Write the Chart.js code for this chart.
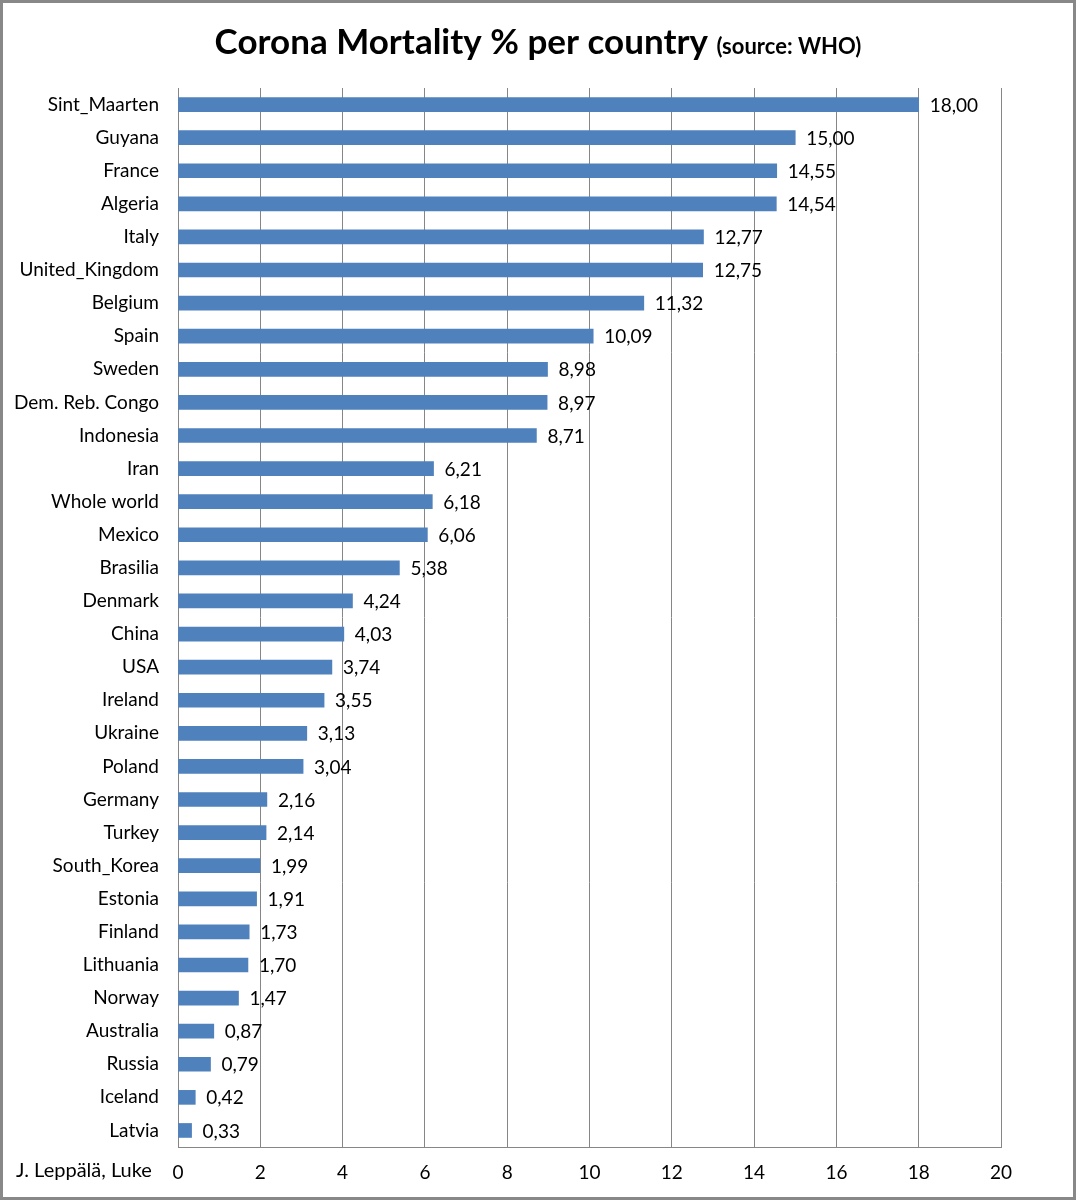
<!DOCTYPE html>
<html>
<head>
<meta charset="utf-8">
<title>Corona Mortality % per country</title>
<script src="https://cdn.jsdelivr.net/npm/chart.js@4.4.1/dist/chart.umd.min.js"></script>
<style>
  html, body { margin: 0; padding: 0; background: #fff; }
  canvas { display: block; }
</style>
</head>
<body>
<canvas id="myChart" width="1076" height="1200"></canvas>
<script>
const countries = ['Sint_Maarten', 'Guyana', 'France', 'Algeria', 'Italy', 'United_Kingdom', 'Belgium', 'Spain',
  'Sweden', 'Dem. Reb. Congo', 'Indonesia', 'Iran', 'Whole world', 'Mexico', 'Brasilia', 'Denmark', 'China',
  'USA', 'Ireland', 'Ukraine', 'Poland', 'Germany', 'Turkey', 'South_Korea', 'Estonia', 'Finland', 'Lithuania',
  'Norway', 'Australia', 'Russia', 'Iceland', 'Latvia'];
const mortality = [18.00, 15.00, 14.55, 14.54, 12.77, 12.75, 11.32, 10.09, 8.98, 8.97, 8.71, 6.21, 6.18, 6.06,
  5.38, 4.24, 4.03, 3.74, 3.55, 3.13, 3.04, 2.16, 2.14, 1.99, 1.91, 1.73, 1.70, 1.47, 0.87, 0.79, 0.42, 0.33];
const xMin = 0;
const xMax = 20;
const xStep = 2;
const titleMain = 'Corona Mortality % per country';
const titleSource = '(source: WHO)';
const credit = 'J. Leppälä, Luke';

const FONT = 'Lato, "Open Sans", sans-serif';

// white page, grey frame, title and credit
const decorations = {
  id: 'decorations',
  beforeDraw(chart) {
    const ctx = chart.ctx;
    ctx.save();
    ctx.fillStyle = '#fff';
    ctx.fillRect(0, 0, chart.width, chart.height);
    ctx.restore();
  },
  afterDraw(chart) {
    const ctx = chart.ctx;
    ctx.save();
    ctx.fillStyle = '#000';
    ctx.textBaseline = 'alphabetic';
    ctx.font = 'bold 35px ' + FONT;
    const w1 = ctx.measureText(titleMain + ' ').width;
    ctx.font = 'bold 22px ' + FONT;
    const w2 = ctx.measureText(titleSource).width;
    let x = chart.width / 2 - (w1 + w2) / 2;
    ctx.font = 'bold 35px ' + FONT;
    ctx.fillText(titleMain + ' ', x, 54);
    ctx.font = 'bold 22px ' + FONT;
    ctx.fillText(titleSource, x + w1, 54);

    ctx.font = '20px ' + FONT;
    ctx.textBaseline = 'middle';
    ctx.fillText(credit, 16, 1171);

    ctx.strokeStyle = '#888';
    ctx.lineWidth = 3;
    ctx.strokeRect(1.5, 1.5, chart.width - 3, chart.height - 3);
    ctx.restore();
  }
};

// value labels at the end of each bar
const valueLabels = {
  id: 'valueLabels',
  afterDatasetsDraw(chart) {
    const ctx = chart.ctx;
    const meta = chart.getDatasetMeta(0);
    ctx.save();
    ctx.font = '19px ' + FONT;
    ctx.fillStyle = '#000';
    ctx.textBaseline = 'middle';
    meta.data.forEach((bar, i) => {
      const txt = mortality[i].toFixed(2).replace('.', ',');
      ctx.fillText(txt, bar.x + 11, bar.y + 1);
    });
    ctx.restore();
  }
};

new Chart(document.getElementById('myChart'), {
  type: 'bar',
  data: {
    labels: countries,
    datasets: [{
      data: mortality,
      backgroundColor: '#4F81BD',
      borderWidth: 0,
      barThickness: 14
    }]
  },
  options: {
    indexAxis: 'y',
    responsive: false,
    animation: false,
    layout: { padding: { top: 88, right: 75, left: 0, bottom: 0 } },
    plugins: {
      legend: { display: false },
      tooltip: { enabled: false }
    },
    scales: {
      x: {
        min: xMin,
        max: xMax,
        ticks: { stepSize: xStep, color: '#000', font: { family: FONT, size: 19 }, padding: 14 },
        grid: { color: '#868686', lineWidth: 1, drawTicks: false },
        border: { color: '#868686', width: 1 },
        afterFit(scale) { scale.height = 53; }
      },
      y: {
        ticks: { color: '#000', font: { family: FONT, size: 19 }, padding: 19, autoSkip: false },
        grid: { display: false, drawTicks: false },
        border: { display: true, color: '#868686', width: 1 },
        afterFit(scale) { scale.width = 178; }
      }
    }
  },
  plugins: [decorations, valueLabels]
});
</script>
</body>
</html>
